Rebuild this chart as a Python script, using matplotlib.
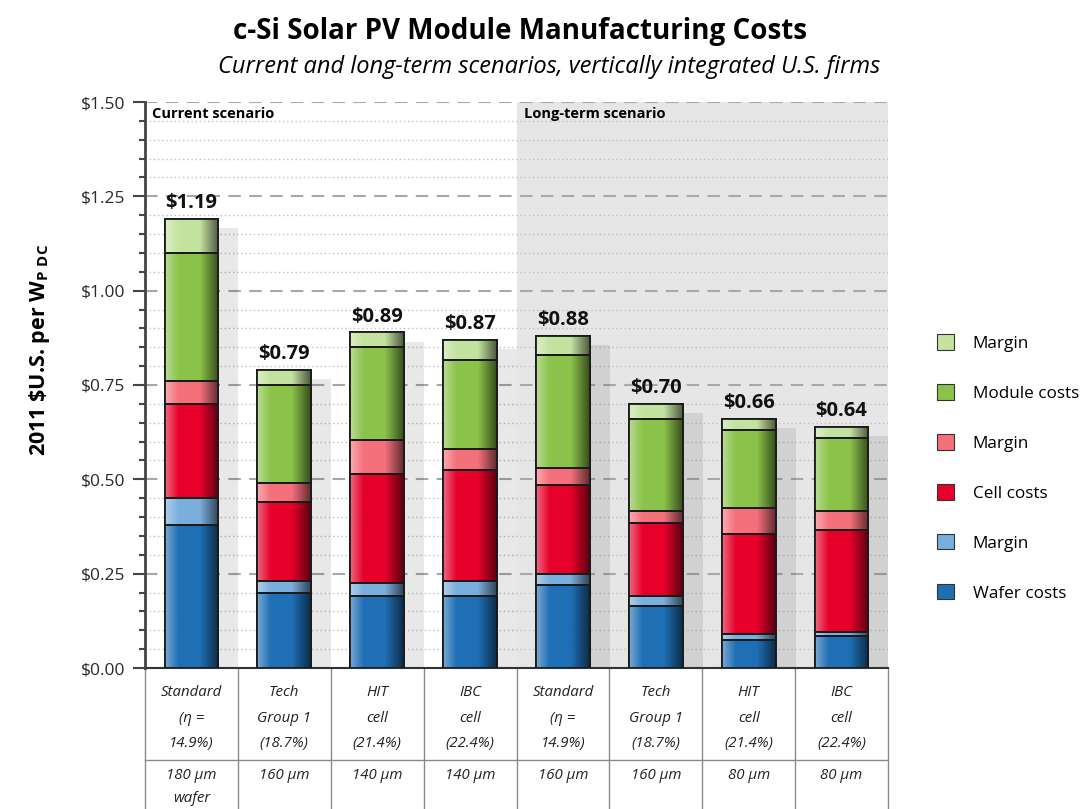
import numpy as np
import matplotlib
matplotlib.use("Agg")
import matplotlib.pyplot as plt
from matplotlib import font_manager
from matplotlib.patches import Patch
from matplotlib.colors import to_rgb

installed = {f.name for f in font_manager.fontManager.ttflist}
narrow = "Liberation Sans Narrow" if "Liberation Sans Narrow" in installed else "Open Sans"
main_font = "Open Sans"
plt.rcParams["font.family"] = [main_font, "DejaVu Sans"]
plt.rcParams["mathtext.default"] = "regular"

# data ($/W)
scenarios = ["Standard\n(\u03b7 =\n14.9%)", "Tech\nGroup 1\n(18.7%)", "HIT\ncell\n(21.4%)", "IBC\ncell\n(22.4%)",
             "Standard\n(\u03b7 =\n14.9%)", "Tech\nGroup 1\n(18.7%)", "HIT\ncell\n(21.4%)", "IBC\ncell\n(22.4%)"]
wafer_thickness = ["180 \u03bcm\nwafer", "160 \u03bcm", "140 \u03bcm", "140 \u03bcm",
                   "160 \u03bcm", "160 \u03bcm", "80 \u03bcm", "80 \u03bcm"]
wafer_costs   = [0.38, 0.20, 0.19, 0.19, 0.22, 0.165, 0.075, 0.085]
wafer_margin  = [0.07, 0.03, 0.035, 0.04, 0.03, 0.025, 0.015, 0.01]
cell_costs    = [0.25, 0.21, 0.29, 0.295, 0.235, 0.195, 0.265, 0.27]
cell_margin   = [0.06, 0.05, 0.09, 0.055, 0.045, 0.03, 0.07, 0.05]
module_costs  = [0.34, 0.26, 0.245, 0.235, 0.30, 0.245, 0.205, 0.195]
module_margin = [0.09, 0.04, 0.04, 0.055, 0.05, 0.04, 0.03, 0.03]
totals = [1.19, 0.79, 0.89, 0.87, 0.88, 0.70, 0.66, 0.64]

segments = [
    ("Wafer costs", wafer_costs, "#1f6fb5"),
    ("Margin", wafer_margin, "#7aaedc"),
    ("Cell costs", cell_costs, "#e6002a"),
    ("Margin", cell_margin, "#f4707b"),
    ("Module costs", module_costs, "#8bc34a"),
    ("Margin", module_margin, "#c4e2a0"),
]

fig = plt.figure(figsize=(10.83, 8.09), dpi=100)
ax = fig.add_axes([145 / 1083, 1 - 668 / 809, 743 / 1083, 566 / 809])

x = np.arange(len(totals))
width = 0.58

# long-term shaded region
ax.axvspan(3.5, 7.5, color="#e6e6e7", zorder=0, lw=0)

# grid
ax.set_yticks(np.arange(0, 1.51, 0.25))
ax.set_yticks(np.arange(0, 1.51, 0.05), minor=True)
ax.grid(axis="y", which="major", color="#a8a8a8", lw=1.5, ls=(0, (6, 4)), zorder=1)
ax.grid(axis="y", which="minor", color="#c0c0c0", lw=1.0, ls=(0, (1, 2)), zorder=1)

# shadows behind bars
ax.bar(x + 0.215, np.array(totals) - 0.025, width, color="black", alpha=0.09, lw=0, zorder=2)


def shade(patch, base):
    r, g, b = to_rgb(base)
    t = np.linspace(0, 1, 60)
    img = np.zeros((1, len(t), 3))
    for i, tt in enumerate(t):
        c = np.array([r, g, b])
        if tt < 0.25:
            k = 0.4 * (1 - tt / 0.25)
            c = c + (1 - c) * k
        elif tt > 0.65:
            k = 0.6 * (tt - 0.65) / 0.35
            c = c * (1 - k)
        img[0, i] = c
    bb = patch.get_bbox()
    im = ax.imshow(img, extent=[bb.x0, bb.x1, bb.y0, bb.y1], aspect="auto",
                   interpolation="bilinear", zorder=3)
    im.set_clip_path(patch)


bottom = np.zeros(len(totals))
handles = []
for label, vals, col in segments:
    bars = ax.bar(x, vals, width, bottom=bottom, color=col, edgecolor="#1a1a1a",
                  lw=1.3, zorder=3)
    for p in bars:
        shade(p, col)
        ax.add_patch(plt.Rectangle((p.get_x(), p.get_y()), p.get_width(), p.get_height(),
                                   fill=False, edgecolor="#1a1a1a", lw=1.3, zorder=4))
    handles.append(Patch(facecolor=col, edgecolor="#333333", lw=0.8, label=label))
    bottom += np.array(vals)

for xi, t in zip(x, totals):
    ax.annotate(f"${t:.2f}", (xi, t), xytext=(0, 4), textcoords="offset points",
                ha="center", va="bottom", fontsize=14.5, fontweight="bold",
                family=[narrow, "DejaVu Sans"], color="#111111", zorder=5)

ax.set_xlim(-0.5, 7.5)
ax.set_ylim(0, 1.5)
ax.set_xticks([])
ax.set_yticklabels([f"${v:.2f}" for v in np.arange(0, 1.51, 0.25)], fontsize=12.5, color="#2a2a2a")
ax.tick_params(axis="y", which="major", length=9, width=1.5, color="#444444", pad=5)
ax.tick_params(axis="y", which="minor", length=4, width=1.5, color="#444444")
for s in ["top", "right"]:
    ax.spines[s].set_visible(False)
ax.spines["left"].set_color("#444444")
ax.spines["left"].set_linewidth(2)
ax.spines["bottom"].set_color("#333333")
ax.spines["bottom"].set_linewidth(1.5)
ax.spines["left"].set_zorder(6)

ax.text(-0.43, 1.487, "Current scenario", fontsize=10.5, fontweight="bold", va="top", ha="left", zorder=5)
ax.text(3.58, 1.487, "Long-term scenario", fontsize=10.5, fontweight="bold", va="top", ha="left", zorder=5)

ax.set_ylabel(r"2011 \$U.S. per W$_{P\ DC}$", fontsize=15.5, fontweight="bold")
ax.yaxis.set_label_coords(-(145 - 52) / 743, (668 - 350) / 566)

# table under the axis
tr = ax.get_xaxis_transform()
row_split = (668 - 760) / 566
tbl_bottom = (668 - 809) / 566
for xv in np.arange(-0.5, 7.6, 1.0):
    ax.plot([xv, xv], [0, tbl_bottom], transform=tr, color="#8a8a8a", lw=1, clip_on=False)
ax.plot([-0.5, 7.5], [row_split, row_split], transform=tr, color="#8a8a8a", lw=1, clip_on=False)
for xi, lab, wt in zip(x, scenarios, wafer_thickness):
    ax.text(xi, (668 - 718) / 566, lab, transform=tr, ha="center", va="center", fontsize=10.8,
            style="italic", family=[narrow, "DejaVu Sans"], color="#222222", linespacing=1.95)
    ax.text(xi, (668 - 768) / 566, wt, transform=tr, ha="center", va="top", fontsize=10.8,
            style="italic", family=[narrow, "DejaVu Sans"], color="#222222", linespacing=1.7)

fig.text(0.48, 1 - 31 / 809, "c-Si Solar PV Module Manufacturing Costs", ha="center", va="center",
         fontsize=20, fontweight="bold")
fig.text(0.507, 1 - 67 / 809, "Current and long-term scenarios, vertically integrated U.S. firms",
         ha="center", va="center", fontsize=17, style="italic")

fig.legend(handles=handles[::-1], loc="center left", bbox_to_anchor=(937 / 1083, 1 - 468 / 809),
           frameon=False, fontsize=12.3, handlelength=1.0, handleheight=1.0, labelspacing=1.9,
           handletextpad=1.1, borderpad=0, borderaxespad=0)

fig.savefig("out.png", dpi=100)
